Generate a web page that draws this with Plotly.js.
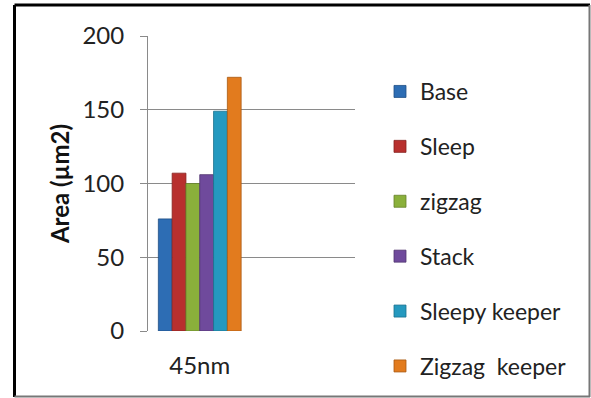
<!DOCTYPE html>
<html>
<head>
<meta charset="utf-8">
<script src="https://cdn.plot.ly/plotly-3.0.1.min.js"></script>
<style>html,body{margin:0;padding:0;background:#fff;}</style>
</head>
<body>
<div id="chart" style="width:591px;height:398px;"></div>
<script>
const categories = ["45nm"];
const seriesNames = ["Base", "Sleep", "zigzag", "Stack", "Sleepy keeper", "Zigzag  keeper"];
const baseVals = [76];
const sleepVals = [107];
const zigzagVals = [100];
const stackVals = [106];
const sleepyKeeperVals = [149];
const zigzagKeeperVals = [172];
const seriesValues = [baseVals, sleepVals, zigzagVals, stackVals, sleepyKeeperVals, zigzagKeeperVals];
const colors = ["#2d6db4", "#b8302e", "#8ab03b", "#6f4a9c", "#2599bf", "#e27b1e"];
const edges = ["#1f4f85", "#862220", "#64822a", "#503570", "#1a718e", "#a85912"];
const yTicks = [0, 50, 100, 150, 200];

const FONT = "Lato, Carlito, Calibri, 'Open Sans', sans-serif";

const traces = seriesNames.map((n, i) => ({
  type: "bar",
  name: n,
  x: categories,
  y: seriesValues[i],
  legendgroup: "g" + i,
  marker: {color: colors[i], line: {color: edges[i], width: 0.8}},
  hoverinfo: "name+y"
}));

const L = 148, R = 355, T = 36, B = 331;
const W = 591, H = 398;
const px = x => (x - L) / (R - L);
const py = y => (B - y) / (B - T);

const layout = {
  width: W, height: H,
  margin: {l: L, r: W - R, t: T, b: H - B, pad: 0, autoexpand: false},
  paper_bgcolor: "#ffffff",
  plot_bgcolor: "#ffffff",
  font: {family: FONT, size: 24, color: "#222"},
  barmode: "group",
  bargap: 0.2,
  bargroupgap: 0,
  showlegend: true,
  xaxis: {
    type: "category",
    range: [-0.5, 1.5],
    showgrid: false,
    zeroline: false,
    showline: false,
    ticks: "",
    ticklabelstandoff: 18,
    tickfont: {family: FONT, size: 24, color: "#222"},
    ticklen: 0
  },
  yaxis: {
    range: [0, 200],
    tickvals: yTicks,
    ticktext: yTicks.map(String),
    showgrid: true,
    gridcolor: "#8a8a8a",
    gridwidth: 1,
    zeroline: false,
    showline: true,
    linecolor: "#8a8a8a",
    linewidth: 1,
    ticks: "outside",
    ticklen: 7,
    tickcolor: "#8a8a8a",
    ticklabelstandoff: 11,
    tickfont: {family: FONT, size: 24, color: "#222"},
    title: {text: "Area (µm2)", font: {family: FONT, size: 24, color: "#111", weight: "bold"}, standoff: 6}
  },
  legend: {
    x: px(380), xanchor: "left",
    y: py(70), yanchor: "top",
    font: {family: FONT, size: 23, color: "#222"},
    tracegroupgap: 22,
    traceorder: "grouped",
    maxheight: 1000,
    bgcolor: "rgba(0,0,0,0)",
    itemclick: false
  },
  shapes: [
    {type: "line", xref: "paper", yref: "paper", x0: px(14.5), x1: px(590), y0: py(5), y1: py(5), line: {color: "#000", width: 3}},
    {type: "line", xref: "paper", yref: "paper", x0: px(14.5), x1: px(14.5), y0: py(5), y1: py(397), line: {color: "#000", width: 3}},
    {type: "line", xref: "paper", yref: "paper", x0: px(589.5), x1: px(589.5), y0: py(5), y1: py(397), line: {color: "#777", width: 2}},
    {type: "line", xref: "paper", yref: "paper", x0: px(14.5), x1: px(590), y0: py(396.5), y1: py(396.5), line: {color: "#777", width: 2}}
  ]
};

Plotly.newPlot("chart", traces, layout, {displayModeBar: false, staticPlot: true});
</script>
</body>
</html>
